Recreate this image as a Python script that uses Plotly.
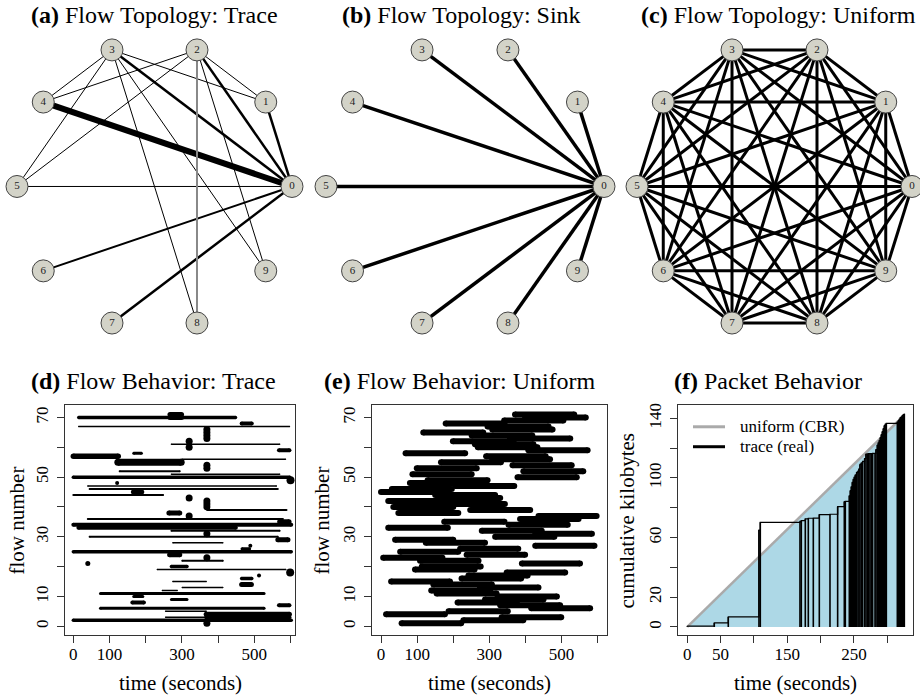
import math
import plotly.graph_objects as go

W, H = 920, 698
FONT = "Liberation Serif"

# ---------------- data ----------------
node_ids = list(range(10))

# (a) trace topology: edges and relative flow volume
trace_edges = [(4, 0), (3, 0), (2, 0), (1, 0), (6, 0), (7, 0), (5, 0),
               (3, 4), (3, 5), (3, 1), (3, 8), (3, 9),
               (2, 4), (2, 5), (2, 1), (2, 9), (2, 8)]
trace_edge_volume = [6, 2.5, 2.5, 2.5, 2, 2.5, 1,
                     1, 1, 1, 1, 1,
                     1, 1, 1, 1, 2]
# (b) sink topology
sink_edges = [(k, 0) for k in range(1, 10)]
# (c) uniform topology: every pair
uniform_edges = [(i, j) for i in range(10) for j in range(i + 1, 10)]

# (d) flow behaviour trace: flow number, start, end (s), relative rate
flow_d  = [70, 70, 71, 68, 67, 61, 59, 58, 57, 55, 56, 52, 51, 50, 47, 46, 44, 45, 39, 38,
           36, 35, 34, 33, 32, 30, 29, 28, 26, 25, 24, 22, 20, 19, 16, 14, 15, 13, 12, 11,
           10, 9, 8, 7, 6, 5, 4, 3, 3, 2]
start_d = [15, 267, 267, 465, 15, 271, 568, 167, 0, 123, 300, 128, 271, 0, 40, 45, 0, 165, 370, 264,
           40, 570, 0, 14, 271, 45, 565, 275, 466, 0, 266, 301, 271, 232, 465, 465, 275, 301, 246, 75,
           167, 271, 163, 568, 75, 255, 367, 367, 255, 0]
end_d   = [448, 299, 299, 493, 597, 570, 597, 188, 124, 298, 586, 294, 570, 598, 561, 565, 248, 190, 589, 294,
           579, 596, 602, 449, 570, 565, 593, 413, 487, 602, 294, 413, 314, 587, 493, 492, 367, 413, 287, 527,
           192, 314, 195, 597, 527, 367, 597, 597, 367, 602]
rate_d  = [3.5, 5, 5, 4, 1.5, 1.5, 4, 3, 5.5, 7, 1.5, 2, 1.5, 3.5, 1.5, 2, 2, 4.5, 2, 5,
           2, 5, 4, 4, 2, 2, 5, 1.5, 3, 3.5, 5, 2, 3.5, 1.5, 3.5, 5, 1.5, 1.5, 1.5, 3,
           3, 3, 4, 4, 3, 1.5, 5, 4, 1.5, 3.5]
# short flows shown as dots
dot_flow = [66, 65, 64, 63, 62, 60, 54, 53, 49, 48, 43, 42, 41, 40, 37, 31, 27, 23, 21, 18, 17, 1]
dot_t    = [369, 369, 369, 369, 320, 320, 369, 369, 600, 121, 320, 369, 369, 369, 320, 369, 489, 369, 40, 599, 513, 369]
dot_rate = [7, 7, 7, 7, 7, 7, 7, 7, 8, 4, 7, 7, 7, 7, 7, 7, 4, 7, 5, 8, 4, 7]

# (e) flow behaviour uniform: flows 1..71
flow_e = list(range(1, 72))
start_e = [57, 228, 334, 14, 187, 416, 330, 212, 288, 323, 154, 139, 274, 145, 28, 223, 242, 348, 94, 113,
           390, 108, 6, 237, 53, 219, 427, 124, 39, 316, 427, 279, 20, 353, 175, 385, 436, 48, 247, 34,
           177, 20, 163, 150, 0, 30, 205, 80, 129, 378, 87, 394, 99, 364, 166, 308, 291, 68, 408, 268,
           260, 199, 357, 251, 117, 308, 295, 179, 341, 399, 371]
end_e = [222, 394, 499, 177, 351, 579, 496, 376, 450, 487, 320, 302, 436, 307, 191, 388, 406, 510, 259, 276,
         551, 270, 170, 399, 214, 380, 591, 288, 200, 480, 584, 445, 185, 517, 342, 547, 597, 214, 413, 200,
         343, 187, 330, 316, 165, 196, 369, 246, 295, 542, 251, 560, 265, 528, 332, 468, 456, 233, 572, 433,
         422, 367, 524, 419, 283, 475, 464, 342, 505, 567, 535]

# (f) packet behaviour: packet arrival times (s) and cumulative kilobytes
pkt_t  = [0, 40.5, 61.5, 107.5, 109.5, 169, 171, 177, 181.5, 189, 198, 214, 225.5, 235.5, 237,
          243, 244.5, 246, 247.5, 249, 250.5, 252, 254, 256, 257.5, 259, 261, 263, 266, 268,
          270, 272, 274, 276, 278, 281.5, 283, 285, 286.5, 288, 289.5, 291, 292.5, 294, 295.5,
          297, 298.5, 315, 316.5, 318, 319.5, 321, 322.5, 324, 325.5]
pkt_kb = [0.5, 2.7, 6.7, 65, 70.2, 70.8, 71.3, 72.5, 72.9, 73.0, 75.4, 75.6, 80.7, 84, 84.2,
          88, 91.4, 94, 97, 99, 100.5, 102, 103.7, 104.5, 106, 109, 110, 111, 113, 116,
          116.1, 116.2, 116.3, 116.3, 116.4, 116.4, 119, 122, 123.5, 125, 127, 129, 131, 133, 135,
          136, 136.5, 137.5, 138.5, 139.5, 140.5, 141, 141.8, 142.5, 143]
cbr_t = [0, 316]
cbr_kb = [0, 138]

panel_titles = [("(a)", "Flow Topology: Trace"), ("(b)", "Flow Topology: Sink"),
                ("(c)", "Flow Topology: Uniform"), ("(d)", "Flow Behavior: Trace"),
                ("(e)", "Flow Behavior: Uniform"), ("(f)", "Packet Behavior")]

# ---------------- layout helpers ----------------
def px_x(x0, x1):
    return [x0 / W, x1 / W]

def px_y(y0, y1):
    return [1 - y1 / H, 1 - y0 / H]

fig = go.Figure()
layout = dict(width=W, height=H, margin=dict(l=0, r=0, t=0, b=0),
              paper_bgcolor="white", plot_bgcolor="white", showlegend=False,
              font=dict(family=FONT, color="black"))

# top panels: circular layouts
top_panels = [((0, 310), 154.5, 137.5), ((310, 615), 465, 139), ((615, 920), 774.5, 137.5)]
cy, ry, ytop, ybot = 185, 144, 28, 342
for i, ((x0, x1), cx, rx) in enumerate(top_panels, start=1):
    sfx = "" if i == 1 else str(i)
    layout["xaxis" + sfx] = dict(domain=px_x(x0, x1), range=[(x0 - cx) / rx, (x1 - cx) / rx],
                                 visible=False, fixedrange=True, anchor="y" + sfx)
    layout["yaxis" + sfx] = dict(domain=px_y(ytop, ybot), range=[(cy - ybot) / ry, (cy - ytop) / ry],
                                 visible=False, fixedrange=True, anchor="x" + sfx)

node_x = [math.cos(2 * math.pi * k / 10) for k in node_ids]
node_y = [math.sin(2 * math.pi * k / 10) for k in node_ids]


def add_edges(edges, widths, colors, axis_sfx):
    groups = {}
    for (a, b), w, c in zip(edges, widths, colors):
        groups.setdefault((w, c), []).append((a, b))
    for (w, c), es in groups.items():
        xs, ys = [], []
        for a, b in es:
            xs += [node_x[a], node_x[b], None]
            ys += [node_y[a], node_y[b], None]
        fig.add_trace(go.Scatter(x=xs, y=ys, mode="lines", line=dict(color=c, width=w),
                                 xaxis="x" + axis_sfx, yaxis="y" + axis_sfx, hoverinfo="skip",
                                 cliponaxis=False))


def add_nodes(axis_sfx):
    fig.add_trace(go.Scatter(x=node_x, y=node_y, mode="markers+text", text=[str(k) for k in node_ids],
                             textposition="middle center",
                             textfont=dict(family=FONT, size=11, color="#222"),
                             marker=dict(size=22, color="#d3d3c8", opacity=1,
                                         line=dict(color="#444", width=1)),
                             xaxis="x" + axis_sfx, yaxis="y" + axis_sfx, cliponaxis=False))


edge_col_a = ["#888888" if e == (2, 8) else "black" for e in trace_edges]
add_edges(trace_edges, trace_edge_volume, edge_col_a, "")
add_nodes("")
add_edges(sink_edges, [3.5] * len(sink_edges), ["black"] * len(sink_edges), "2")
add_nodes("2")
add_edges(uniform_edges, [3] * len(uniform_edges), ["black"] * len(uniform_edges), "3")
add_nodes("3")

# bottom panels
axis_common = dict(showline=True, linecolor="#333", linewidth=1, mirror=True, ticks="outside",
                   ticklen=7, tickwidth=1, tickcolor="#333", showgrid=False, zeroline=False,
                   tickfont=dict(family=FONT, size=17, color="black"), fixedrange=True)
flow_ticks = [0, 10, 20, 30, 40, 50, 60, 70]
flow_ticktext = ["0", "10", "", "30", "", "50", "", "70"]
time_ticks = [0, 100, 200, 300, 400, 500, 600]
time_ticktext = ["0", "100", "", "300", "", "500", ""]
kb_ticks = [0, 20, 40, 60, 80, 100, 120, 140]
kb_ticktext = ["0", "20", "", "60", "", "100", "", "140"]
pkt_time_ticks = [0, 50, 100, 150, 200, 250, 300]
pkt_time_ticktext = ["0", "50", "", "150", "", "250", ""]

bottom = [
    (4, (65, 295), (-23, 612.4), (-3.0, 74.25), time_ticks, time_ticktext, flow_ticks, flow_ticktext),
    (5, (371.7, 606.7), (-25.8, 624.9), (-3.0, 74.25), time_ticks, time_ticktext, flow_ticks, flow_ticktext),
    (6, (678, 913), (-13.9, 338.5), (-5.55, 149.0), pkt_time_ticks, pkt_time_ticktext, kb_ticks, kb_ticktext),
]
for n, (x0, x1), xr, yr, xtv, xtt, ytv, ytt in bottom:
    layout[f"xaxis{n}"] = dict(axis_common, domain=px_x(x0, x1), range=list(xr), anchor=f"y{n}",
                               tickvals=xtv, ticktext=xtt, ticklabelstandoff=-4)
    layout[f"yaxis{n}"] = dict(axis_common, domain=px_y(404, 635), range=list(yr), anchor=f"x{n}",
                               tickvals=ytv, ticktext=ytt, tickangle=-90, ticklabelstandoff=2)

# (d) segments grouped by rate (line width)
groups = {}
for f, s, e, r in zip(flow_d, start_d, end_d, rate_d):
    groups.setdefault(r, []).append((f, s, e))
for r in sorted(groups):
    xs, ys = [], []
    for f, s, e in groups[r]:
        xs += [s, e, None]
        ys += [f, f, None]
    fig.add_trace(go.Scatter(x=xs, y=ys, mode="lines+markers", line=dict(color="black", width=r),
                             marker=dict(size=r, color="black", opacity=1),
                             xaxis="x4", yaxis="y4", hoverinfo="skip"))
fig.add_trace(go.Scatter(x=dot_t, y=dot_flow, mode="markers",
                         marker=dict(size=dot_rate, color="black", opacity=1, line=dict(width=0)),
                         xaxis="x4", yaxis="y4"))

# (e) uniform flows
xs, ys = [], []
for f, s, e in zip(flow_e, start_e, end_e):
    xs += [s, e, None]
    ys += [f, f, None]
fig.add_trace(go.Scatter(x=xs, y=ys, mode="lines+markers", line=dict(color="black", width=6),
                         marker=dict(size=6, color="black", opacity=1),
                         xaxis="x5", yaxis="y5", hoverinfo="skip"))

# (f) packet behaviour
fig.add_trace(go.Scatter(x=cbr_t, y=cbr_kb, mode="lines", fill="tozeroy", fillcolor="#add8e6",
                         line=dict(color="#aaaaaa", width=2.5), xaxis="x6", yaxis="y6"))
xs, ys = [], []
for t, k in zip(pkt_t, pkt_kb):
    xs += [t, t, None]
    ys += [0, k, None]
fig.add_trace(go.Scatter(x=xs, y=ys, mode="lines", line=dict(color="black", width=1.6),
                         xaxis="x6", yaxis="y6", hoverinfo="skip"))
fig.add_trace(go.Scatter(x=pkt_t, y=pkt_kb, mode="lines", line=dict(color="black", width=1.2, shape="hv"),
                         xaxis="x6", yaxis="y6"))

# legend of (f)
shapes = []
annotations = []
for yy, col, lab in [(426, "#aaaaaa", "uniform (CBR)"), (446, "black", "trace (real)")]:
    shapes.append(dict(type="line", xref="paper", yref="paper", x0=693 / W, x1=725 / W,
                       y0=1 - yy / H, y1=1 - yy / H, line=dict(color=col, width=3)))
    annotations.append(dict(xref="paper", yref="paper", x=738 / W, y=1 - yy / H, text=lab,
                            showarrow=False, xanchor="left", yanchor="middle",
                            font=dict(family=FONT, size=17, color="black")))

# titles
title_pos = [(154, 13), (461, 13), (778, 13), (153, 380), (460, 380), (768, 380)]
for (lbl, txt), (tx, ty) in zip(panel_titles, title_pos):
    annotations.append(dict(xref="paper", yref="paper", x=tx / W, y=1 - ty / H,
                            text=f"<b>{lbl}</b> {txt}", showarrow=False, xanchor="center",
                            yanchor="middle", font=dict(family=FONT, size=24, color="black")))

# axis titles
for tx, ty, txt, ang in [(17, 520, "flow number", -90), (322, 520, "flow number", -90),
                         (627, 520, "cumulative kilobytes", -90),
                         (180, 683, "time (seconds)", 0), (489, 683, "time (seconds)", 0),
                         (795, 683, "time (seconds)", 0)]:
    annotations.append(dict(xref="paper", yref="paper", x=tx / W, y=1 - ty / H, text=txt,
                            showarrow=False, xanchor="center", yanchor="middle", textangle=ang,
                            font=dict(family=FONT, size=21, color="black")))

layout["shapes"] = shapes
layout["annotations"] = annotations
fig.update_layout(**layout)
fig.write_html("out.html", config={"displayModeBar": False},
               post_script="document.body.style.margin='0';document.body.style.overflow='hidden';")
